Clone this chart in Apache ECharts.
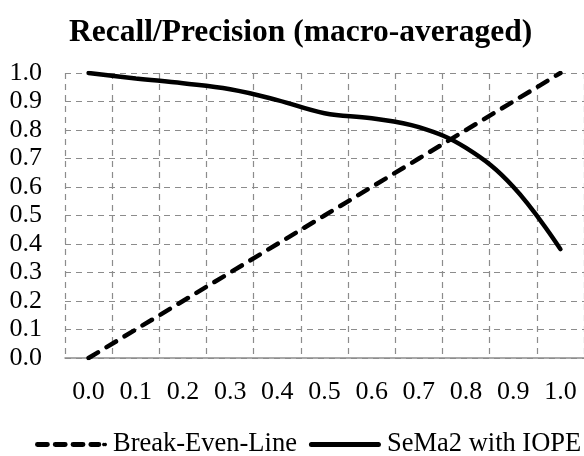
<!DOCTYPE html>
<html><head><meta charset="utf-8">
<script src="https://cdn.jsdelivr.net/npm/echarts@6/dist/echarts.min.js"></script>
<style>html,body{margin:0;padding:0;background:#fff}#c{width:584px;height:456px}</style>
</head><body><div id="c"></div>
<script>
const categories = ['0.0','0.1','0.2','0.3','0.4','0.5','0.6','0.7','0.8','0.9','1.0'];
const breakEven = [0.0,0.1,0.2,0.3,0.4,0.5,0.6,0.7,0.8,0.9,1.0];
const sema2 = [1.0,0.981,0.964,0.943,0.905,0.859,0.841,0.81,0.737,0.601,0.382];
const yTicks = {min:0, max:1, interval:0.1};
const font = '"Liberation Serif","Times New Roman",serif';
const dashIcon = 'path://M2.5,0 H12.5 A2.5,2.5 0 0 1 12.5,5 H2.5 A2.5,2.5 0 0 1 2.5,0 Z ' +
  'M20.5,0 H30.5 A2.5,2.5 0 0 1 30.5,5 H20.5 A2.5,2.5 0 0 1 20.5,0 Z ' +
  'M38.5,0 H48.5 A2.5,2.5 0 0 1 48.5,5 H38.5 A2.5,2.5 0 0 1 38.5,0 Z ' +
  'M56.5,0 H64.5 A2.5,2.5 0 0 1 64.5,5 H56.5 A2.5,2.5 0 0 1 56.5,0 Z ' +
  'M70.3,1 A1.7,1.7 0 1 1 70.3,4 A1.7,1.7 0 1 1 70.3,1 Z';
const solidIcon = 'path://M2.5,0 H69.5 A2.5,2.5 0 0 1 69.5,5 H2.5 A2.5,2.5 0 0 1 2.5,0 Z';
const chart = echarts.init(document.getElementById('c'), null, {renderer:'canvas'});
chart.setOption({
  animation:false,
  title:{text:'Recall/Precision (macro-averaged)', left:64, top:12,
    textStyle:{fontFamily:font, fontWeight:'bold', fontSize:31.5, color:'#000'}},
  grid:{left:65, right:0, top:73, bottom:98},
  legend:{bottom:-2, left:35, width:570, padding:0, itemWidth:72, itemHeight:5, itemGap:12,
    itemStyle:{borderWidth:0},
    textStyle:{fontFamily:font, fontSize:26.5, color:'#000', padding:[0,0,0,1]},
    data:[{name:'Break-Even-Line', icon:dashIcon},{name:'SeMa2 with IOPE', icon:solidIcon}]},
  xAxis:{type:'category', data:categories, boundaryGap:true,
    axisLine:{lineStyle:{color:'#8c8c8c', width:1.5}},
    axisTick:{show:false},
    axisLabel:{fontFamily:font, fontSize:26, color:'#000', margin:21},
    splitLine:{show:true, lineStyle:{color:'#8c8c8c', type:[6,5], width:1.2}}},
  yAxis:{type:'value', min:yTicks.min, max:yTicks.max, interval:yTicks.interval,
    axisLine:{show:false}, axisTick:{show:false},
    axisLabel:{fontFamily:font, fontSize:26, color:'#000', margin:23, formatter:v=>v.toFixed(1)},
    splitLine:{show:true, lineStyle:{color:'#8c8c8c', type:[6,5], width:1.2}}},
  series:[
    {name:'Break-Even-Line', type:'line', data:breakEven, showSymbol:false, symbol:'none',
      lineStyle:{color:'#000', width:4.5, type:[11,10], cap:'round'}, itemStyle:{color:'#000'}},
    {name:'SeMa2 with IOPE', type:'line', data:sema2, smooth:0.4, showSymbol:false, symbol:'none',
      lineStyle:{color:'#000', width:4.5, cap:'round'}, itemStyle:{color:'#000'}}
  ]
});
</script></body></html>
